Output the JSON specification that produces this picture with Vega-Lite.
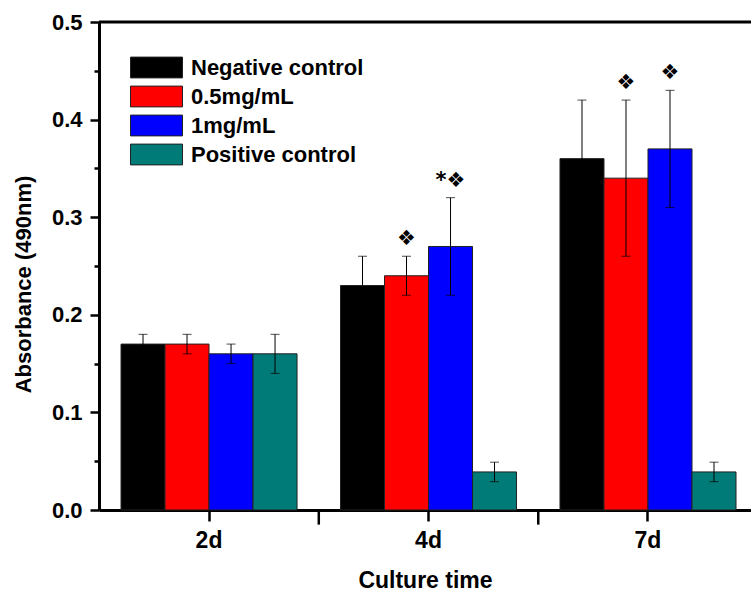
{
  "$schema": "https://vega.github.io/schema/vega-lite/v6.json",
  "width": 652,
  "height": 488,
  "autosize": {"type": "none"},
  "padding": {"left": 99, "top": 22, "right": 0, "bottom": 89},
  "background": "white",
  "config": {"view": {"stroke": null}, "font": "Liberation Sans"},
  "datasets": {
    "bars": [
      {"day": "2d", "group": "Negative control", "value": 0.17, "lo": 0.16, "hi": 0.18, "sig": ""},
      {"day": "2d", "group": "0.5mg/mL", "value": 0.17, "lo": 0.16, "hi": 0.18, "sig": ""},
      {"day": "2d", "group": "1mg/mL", "value": 0.16, "lo": 0.15, "hi": 0.17, "sig": ""},
      {"day": "2d", "group": "Positive control", "value": 0.16, "lo": 0.14, "hi": 0.18, "sig": ""},
      {"day": "4d", "group": "Negative control", "value": 0.23, "lo": 0.20, "hi": 0.26, "sig": ""},
      {"day": "4d", "group": "0.5mg/mL", "value": 0.24, "lo": 0.22, "hi": 0.26, "sig": "❖"},
      {"day": "4d", "group": "1mg/mL", "value": 0.27, "lo": 0.22, "hi": 0.32, "sig": "*❖"},
      {"day": "4d", "group": "Positive control", "value": 0.039, "lo": 0.029, "hi": 0.049, "sig": ""},
      {"day": "7d", "group": "Negative control", "value": 0.36, "lo": 0.30, "hi": 0.42, "sig": ""},
      {"day": "7d", "group": "0.5mg/mL", "value": 0.34, "lo": 0.26, "hi": 0.42, "sig": "❖"},
      {"day": "7d", "group": "1mg/mL", "value": 0.37, "lo": 0.31, "hi": 0.43, "sig": "❖"},
      {"day": "7d", "group": "Positive control", "value": 0.039, "lo": 0.029, "hi": 0.049, "sig": ""}
    ],
    "minor": [{"day": "2d", "y0": 0, "y1": -0.015}, {"day": "4d", "y0": 0, "y1": -0.015}]
  },
  "layer": [
    {
      "data": {"name": "bars"},
      "mark": {"type": "bar", "stroke": "#222", "strokeWidth": 1},
      "encoding": {
        "x": {
          "field": "day", "type": "nominal", "sort": ["2d", "4d", "7d"],
          "scale": {"domain": ["2d", "4d", "7d"], "paddingInner": 0.198, "paddingOuter": 0.0843, "align": 0.595},
          "axis": {
            "title": "Culture time", "labelAngle": 0, "tickSize": 11, "tickWidth": 2.5, "tickColor": "black",
            "domainColor": "black", "domainWidth": 3, "labelFontSize": 23, "labelFontWeight": "bold",
            "labelColor": "black", "labelPadding": 8, "titleFontSize": 23, "titleFontWeight": "bold",
            "titleColor": "black", "titlePadding": 17, "grid": false
          }
        },
        "xOffset": {
          "field": "group", "type": "nominal",
          "sort": ["Negative control", "0.5mg/mL", "1mg/mL", "Positive control"],
          "scale": {"domain": ["Negative control", "0.5mg/mL", "1mg/mL", "Positive control"], "paddingInner": 0, "paddingOuter": 0}
        },
        "y": {
          "field": "value", "type": "quantitative",
          "scale": {"domain": [0, 0.5], "nice": false},
          "axis": {
            "title": "Absorbance (490nm)",
            "values": [0, 0.05, 0.1, 0.15, 0.2, 0.25, 0.3, 0.35, 0.4, 0.45, 0.5],
            "labelExpr": "round(datum.value*20)%2==0 ? format(datum.value,'.1f') : ''",
            "tickSize": {"condition": {"test": "round(datum.value*20)%2==0", "value": 9}, "value": 5},
            "tickWidth": 2.5, "tickColor": "black", "domainColor": "black", "domainWidth": 3,
            "labelFontSize": 22, "labelFontWeight": "bold", "labelColor": "black", "labelPadding": 8,
            "labelFlush": false, "labelOverlap": false,
            "titleFontSize": 22, "titleFontWeight": "bold", "titleColor": "black", "titlePadding": 16,
            "titleY": 262, "grid": false
          }
        },
        "color": {
          "field": "group", "type": "nominal",
          "scale": {"domain": ["Negative control", "0.5mg/mL", "1mg/mL", "Positive control"], "range": ["#000000", "#FF0000", "#0000FF", "#007B77"]},
          "legend": {
            "title": null, "orient": "none", "legendX": 44, "legendY": 32,
            "symbolType": "M-2,-0.8H2V0.8H-2Z", "symbolSize": 676, "symbolStrokeColor": "#222", "symbolStrokeWidth": 1,
            "symbolOpacity": 1, "labelLimit": 0,
            "labelFontSize": 22, "labelFontWeight": "bold", "labelColor": "black", "labelOffset": 21, "rowPadding": 3,
            "labelFont": "Liberation Sans"
          }
        }
      }
    },
    {
      "data": {"name": "bars"},
      "mark": {"type": "rule", "color": "black", "strokeWidth": 1},
      "encoding": {
        "x": {"field": "day", "type": "nominal"},
        "xOffset": {"field": "group", "type": "nominal"},
        "y": {"field": "lo", "type": "quantitative"},
        "y2": {"field": "hi"}
      }
    },
    {
      "data": {"name": "bars"},
      "mark": {"type": "tick", "orient": "horizontal", "size": 9, "thickness": 1, "color": "black"},
      "encoding": {
        "x": {"field": "day", "type": "nominal"},
        "xOffset": {"field": "group", "type": "nominal"},
        "y": {"field": "hi", "type": "quantitative"}
      }
    },
    {
      "data": {"name": "bars"},
      "mark": {"type": "tick", "orient": "horizontal", "size": 9, "thickness": 1, "color": "black"},
      "encoding": {
        "x": {"field": "day", "type": "nominal"},
        "xOffset": {"field": "group", "type": "nominal"},
        "y": {"field": "lo", "type": "quantitative"}
      }
    },
    {
      "data": {"name": "bars"},
      "transform": [{"filter": "datum.sig != ''"}],
      "mark": {"type": "text", "font": "DejaVu Sans", "fontSize": 21, "fontWeight": "bold", "dy": -17, "baseline": "middle", "color": "black"},
      "encoding": {
        "x": {"field": "day", "type": "nominal"},
        "xOffset": {"field": "group", "type": "nominal"},
        "y": {"field": "hi", "type": "quantitative"},
        "text": {"field": "sig"}
      }
    },
    {
      "data": {"values": [{"top": 0.5}]},
      "mark": {"type": "rule", "color": "black", "strokeWidth": 3},
      "encoding": {"y": {"field": "top", "type": "quantitative"}}
    },
    {
      "data": {"name": "minor"},
      "mark": {"type": "rule", "color": "black", "strokeWidth": 2.5, "clip": false},
      "encoding": {
        "x": {"field": "day", "type": "nominal", "bandPosition": 1.1235},
        "y": {"field": "y0", "type": "quantitative"},
        "y2": {"field": "y1"}
      }
    }
  ]
}
